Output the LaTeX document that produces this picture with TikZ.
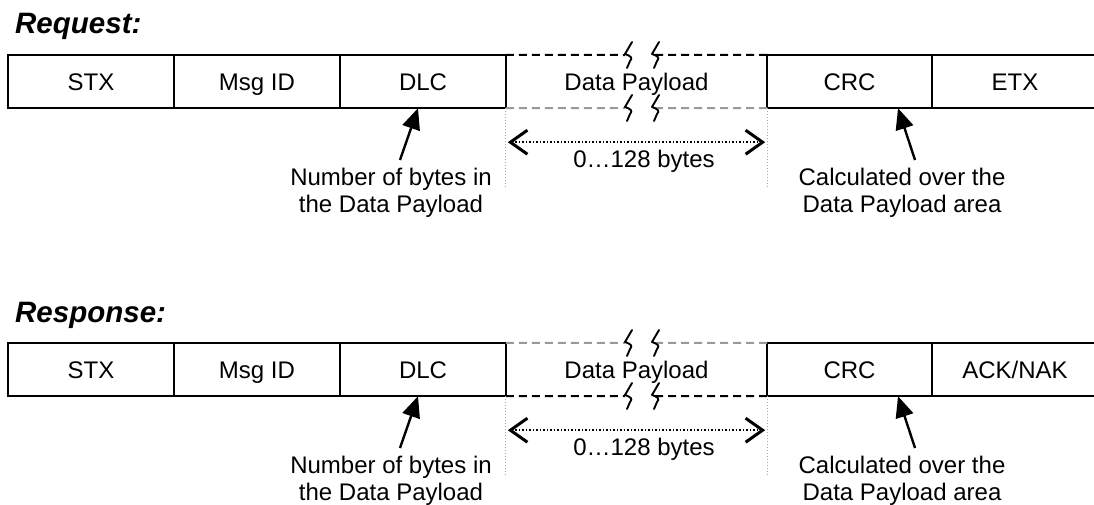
\documentclass[tikz,border=0pt]{standalone}
\usepackage{fontspec}
\setmainfont{Liberation Sans}
\usetikzlibrary{arrows.meta}
\tikzset{
  field/.style={minimum width=166pt, minimum height=53pt, inner sep=0pt,
    text height=17pt, text depth=0pt, font=\fontsize{24}{28}\selectfont},
  boxline/.style={line width=2pt, line cap=rect},
  gapline/.style={line width=2pt, dash pattern=on 8pt off 5pt},
  squig/.style={line width=1.9pt, line cap=round, line join=round},
  guide/.style={gray!70, line width=1.2pt, dash pattern=on 1pt off 2pt},
  span/.style={line width=1.8pt, dash pattern=on 1.5pt off 2pt,
    {Straight Barb[length=17pt,width=24pt,line width=3pt]}-{Straight Barb[length=17pt,width=24pt,line width=3pt]}},
  note/.style={font=\fontsize{24}{27}\selectfont, align=center, inner sep=0pt, anchor=north},
  lenlabel/.style={font=\fontsize{24}{27}\selectfont, inner sep=0pt, anchor=base},
  pointer/.style={line width=2.4pt, -{Triangle[length=21pt,width=18pt]}},
  title/.style={font=\fontsize{29.5}{32}\selectfont\bfseries\itshape, anchor=base west, inner sep=0pt},
}
\newcommand\brkmark[2]{%
  \draw[squig] ({#1+4},{#2-13}) -- ({#1-3},{#2-1})
    .. controls ({#1+3},{#2+1}) and ({#1+5},{#2+3}) .. ({#1+2},{#2+6}) -- ({#1-1},{#2+13});}
% #1 prefix, #2 offset, #3 last label, #4 top dash colour, #5 bottom dash colour
\newcommand\protorow[5]{%
  \node[field] (#1stx) at (91,{81.5+#2}) {STX};
  \node[field] (#1msg) at (257,{81.5+#2}) {Msg ID};
  \node[field] (#1dlc) at (423,{81.5+#2}) {DLC};
  \node[field, minimum width=261pt] (#1pay) at (636.5,{81.5+#2}) {Data Payload};
  \node[field, minimum width=165pt] (#1crc) at (849.5,{81.5+#2}) {CRC};
  \node[field] (#1end) at (1015,{81.5+#2}) {#3};
  \draw[boxline] (#1stx.south west) rectangle (#1dlc.north east);
  \draw[boxline] (#1stx.north east) -- (#1stx.south east);
  \draw[boxline] (#1msg.north east) -- (#1msg.south east);
  \draw[boxline] (#1end.north east) -- (#1crc.north west) -- (#1crc.south west) -- (#1end.south east);
  \draw[boxline] (#1crc.north east) -- (#1crc.south east);
  % dashed open edges of the payload
  \draw[gapline, #4] (#1pay.north west) -- (625,{55+#2});
  \draw[gapline, #4] (#1pay.north east) -- (652,{55+#2});
  \draw[gapline, #5] (#1pay.south west) -- (625,{108+#2});
  \draw[gapline, #5] (#1pay.south east) -- (652,{108+#2});
  \brkmark{628}{55+#2}
  \brkmark{655}{55+#2}
  \brkmark{628}{108+#2}
  \brkmark{655}{108+#2}
  % extent guides and length arrow
  \draw[guide] (#1pay.south west) -- ([yshift=-79pt]#1pay.south west);
  \draw[guide] (#1pay.south east) -- ([yshift=-79pt]#1pay.south east);
  \draw[span] ([xshift=2pt,yshift=-34pt]#1pay.south west) -- ([xshift=-2pt,yshift=-34pt]#1pay.south east);
  \node[lenlabel] (#1len) at (644,{167+#2}) {0…128 bytes};
  % notes
  \node[note] (#1dlcnote) at (391,{167.5+#2}) {Number of bytes in\\the Data Payload};
  \node[note] (#1crcnote) at (902,{167.5+#2}) {Calculated over the\\Data Payload area};
  \draw[pointer] ([xshift=9pt,yshift=7.5pt]#1dlcnote.north) -- ([xshift=-5pt]#1dlc.south);
  \draw[pointer] ([xshift=13pt,yshift=7.5pt]#1crcnote.north) -- ([xshift=48.5pt]#1crc.south);
}
\begin{document}
\begin{tikzpicture}[x=1pt,y=-1pt]
  \useasboundingbox (0,0) rectangle (1094,504);
  \node[title] (reqtitle) at (15,33) {Request:};
  \node[title] (restitle) at (15,322) {Response:};
  \protorow{q}{0}{ETX}{black}{gray!80}
  \protorow{s}{288}{ACK/NAK}{gray!80}{black}
\end{tikzpicture}
\end{document}
